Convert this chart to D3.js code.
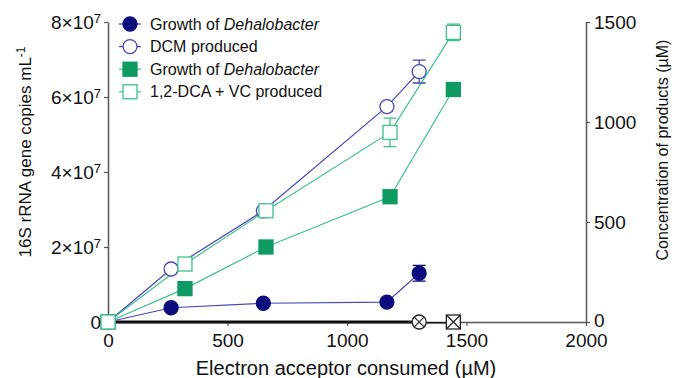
<!DOCTYPE html>
<html>
<head>
<meta charset="utf-8">
<script src="https://cdn.jsdelivr.net/npm/d3@7"></script>
<style>
  body { margin: 0; background: #fff; }
  svg { font-family: "Liberation Sans", Arial, sans-serif; }
</style>
</head>
<body>
<svg id="chart"></svg>
<script>
// data
const xDCM = [0, 264, 650, 1167, 1302];
const growthDCM = [0, 3.8e6, 5.0e6, 5.3e6, 1.3e7];
const growthDCMErr = [0, 0, 0, 0, 2.1e6];
const dcmProduced = [0, 265, 556, 1077, 1252];
const dcmProducedErr = [0, 0, 0, 0, 57];

const xDCA = [0, 322, 661, 1180, 1445];
const growthDCA = [0, 8.9e6, 2.0e7, 3.34e7, 6.2e7];
const growthDCAErr = [0, 0, 0, 0, 0];
const dcaProduced = [0, 290, 556, 948, 1448];
const dcaProducedErr = [0, 0, 0, 71, 41];

const xControlDCM = [0, 1302];
const controlDCM = [0, 0];
const xControlDCA = [0, 1445];
const controlDCA = [0, 0];

const xTicks = [0, 500, 1000, 1500, 2000];
const leftTicks = [0, 2e7, 4e7, 6e7, 8e7];
const rightTicks = [0, 500, 1000, 1500];
const legendLabels = [
  ["Growth of ", "Dehalobacter"],
  ["DCM produced", ""],
  ["Growth of ", "Dehalobacter"],
  ["1,2-DCA + VC produced", ""]
];

const width = 676, height = 378;
const margin = { top: 22, left: 108, bottom: 56, right: 90 };
const iwidth = width - margin.left - margin.right;
const iheight = height - margin.top - margin.bottom;

const navy = "#0b0b7d", blueLine = "#4646b8";
const green = "#0f9a63", greenLine = "#3fc18d";

const svg = d3.select("#chart").attr("width", width).attr("height", height);
const g = svg.append("g").attr("transform", `translate(${margin.left},${margin.top})`);

const x = d3.scaleLinear().domain([0, 2000]).range([0, iwidth]);
const yL = d3.scaleLinear().domain([0, 8e7]).range([iheight, 0]);
const yR = d3.scaleLinear().domain([0, 1500]).range([iheight, 0]);

// axes
const axisColor = "#555";
function styleAxis(sel) {
  sel.attr("font-family", null).attr("font-size", null);
  sel.select(".domain").attr("stroke", axisColor).attr("stroke-width", 1.5);
  sel.selectAll(".tick line").attr("stroke", axisColor).attr("stroke-width", 1.2);
  sel.selectAll(".tick text").attr("fill", "#111").style("font-size", "19px");
}

const xAxis = g.append("g")
  .attr("transform", `translate(0,${iheight})`)
  .call(d3.axisBottom(x).tickValues(xTicks).tickSize(4).tickSizeOuter(0).tickPadding(8).tickFormat(d3.format("d")));
styleAxis(xAxis);

const lAxis = g.append("g")
  .call(d3.axisLeft(yL).tickValues(leftTicks).tickSize(4).tickSizeOuter(0).tickPadding(3).tickFormat(""));
styleAxis(lAxis);
lAxis.selectAll(".tick text").each(function (d) {
  const t = d3.select(this);
  if (d === 0) { t.text("0"); return; }
  t.append("tspan").text((d / 1e7) + "\u00d710");
  t.append("tspan").attr("dy", "-0.45em").style("font-size", "13px").text("7");
});

const rAxis = g.append("g")
  .attr("transform", `translate(${iwidth},0)`)
  .call(d3.axisRight(yR).tickValues(rightTicks).tickSize(4).tickSizeOuter(0).tickPadding(4).tickFormat(d3.format("d")));
styleAxis(rAxis);
rAxis.selectAll(".tick text").filter(d => d === 0).attr("dy", "0.22em");

// axis titles
const leftTitle = g.append("text")
  .attr("transform", `translate(${25 - margin.left},${152 - margin.top}) rotate(-90)`)
  .attr("text-anchor", "middle").attr("dy", "0.35em")
  .style("font-size", "17px").attr("fill", "#111");
leftTitle.append("tspan").text("16S rRNA gene copies mL");
leftTitle.append("tspan").attr("dy", "-0.5em").style("font-size", "12px").text("-1");

g.append("text")
  .attr("transform", `translate(${662 - margin.left},${150 - margin.top}) rotate(-90)`)
  .attr("text-anchor", "middle").attr("dy", "0.35em")
  .style("font-size", "16px").attr("fill", "#111")
  .text("Concentration of products (\u00b5M)");

g.append("text")
  .attr("x", x(1000) - 1).attr("y", 375 - margin.top)
  .attr("text-anchor", "middle")
  .style("font-size", "20px").attr("fill", "#111")
  .text("Electron acceptor consumed (\u00b5M)");

// series
const series = [
  { xs: xDCM, ys: growthDCM, err: growthDCMErr, y: yL, line: blueLine, stroke: navy, fill: navy, shape: "circle" },
  { xs: xDCM, ys: dcmProduced, err: dcmProducedErr, y: yR, line: blueLine, stroke: blueLine, fill: "#fff", shape: "circle" },
  { xs: xDCA, ys: growthDCA, err: growthDCAErr, y: yL, line: greenLine, stroke: green, fill: green, shape: "square" },
  { xs: xDCA, ys: dcaProduced, err: dcaProducedErr, y: yR, line: greenLine, stroke: greenLine, fill: "#fff", shape: "square" }
];
const controls = [
  { xs: xControlDCM, ys: controlDCM, shape: "xcircle" },
  { xs: xControlDCA, ys: controlDCA, shape: "xsquare" }
];

function drawMarker(sel, shape, stroke, fill) {
  if (shape === "circle" || shape === "xcircle") {
    sel.append("circle").attr("r", 7).attr("fill", fill).attr("stroke", stroke).attr("stroke-width", 1.3);
  } else {
    sel.append("rect").attr("x", -7).attr("y", -7).attr("width", 14).attr("height", 14)
      .attr("fill", fill).attr("stroke", stroke).attr("stroke-width", 1.3);
  }
  if (shape === "xcircle") {
    const k = 4.6;
    sel.append("path").attr("d", `M${-k},${-k}L${k},${k}M${-k},${k}L${k},${-k}`).attr("stroke", stroke).attr("stroke-width", 1.2);
  }
  if (shape === "xsquare") {
    sel.append("path").attr("d", "M-7,-7L7,7M-7,7L7,-7").attr("stroke", stroke).attr("stroke-width", 1.2);
  }
}

// control lines along zero
controls.forEach(s => {
  const pts = s.xs.map((v, i) => [x(v), yL(s.ys[i])]);
  g.append("path").attr("d", d3.line()(pts)).attr("fill", "none").attr("stroke", "#111").attr("stroke-width", 1.6)
    .attr("transform", s.shape === "xcircle" ? "translate(0,-0.8)" : "translate(0,0.8)");
});

series.forEach(s => {
  const pts = s.xs.map((v, i) => [x(v), s.y(s.ys[i])]);
  g.append("path").attr("d", d3.line()(pts)).attr("fill", "none").attr("stroke", s.line).attr("stroke-width", 1.2);
});

// error bars
series.forEach(s => {
  s.xs.forEach((v, i) => {
    if (!s.err[i]) return;
    const cx = x(v), y0 = s.y(s.ys[i] - s.err[i]), y1 = s.y(s.ys[i] + s.err[i]);
    g.append("path")
      .attr("d", `M${cx},${y0}L${cx},${y1}M${cx - 6.5},${y0}L${cx + 6.5},${y0}M${cx - 6.5},${y1}L${cx + 6.5},${y1}`)
      .attr("stroke", s.stroke).attr("stroke-width", 1.3).attr("fill", "none");
  });
});

// markers
series.forEach(s => {
  s.xs.forEach((v, i) => {
    const m = g.append("g").attr("transform", `translate(${x(v)},${s.y(s.ys[i])})`);
    drawMarker(m, s.shape, s.stroke, s.fill);
  });
});
controls.forEach(s => {
  const last = s.xs.length - 1;
  const m = g.append("g").attr("transform", `translate(${x(s.xs[last])},${yL(s.ys[last])})`);
  drawMarker(m, s.shape, "#222", "#fff");
});

// legend
const legend = svg.append("g").attr("transform", "translate(130,24)");
series.forEach((s, i) => {
  const row = legend.append("g").attr("transform", `translate(0,${i * 22.6})`);
  row.append("line").attr("x1", -11).attr("x2", 11).attr("stroke", s.line).attr("stroke-width", 1.2);
  drawMarker(row.append("g"), s.shape, s.stroke, s.fill);
  const t = row.append("text").attr("x", 20).attr("dy", "0.35em").style("font-size", "16px").attr("fill", "#111");
  t.append("tspan").text(legendLabels[i][0]);
  if (legendLabels[i][1]) t.append("tspan").style("font-style", "italic").text(legendLabels[i][1]);
});
</script>
</body>
</html>
